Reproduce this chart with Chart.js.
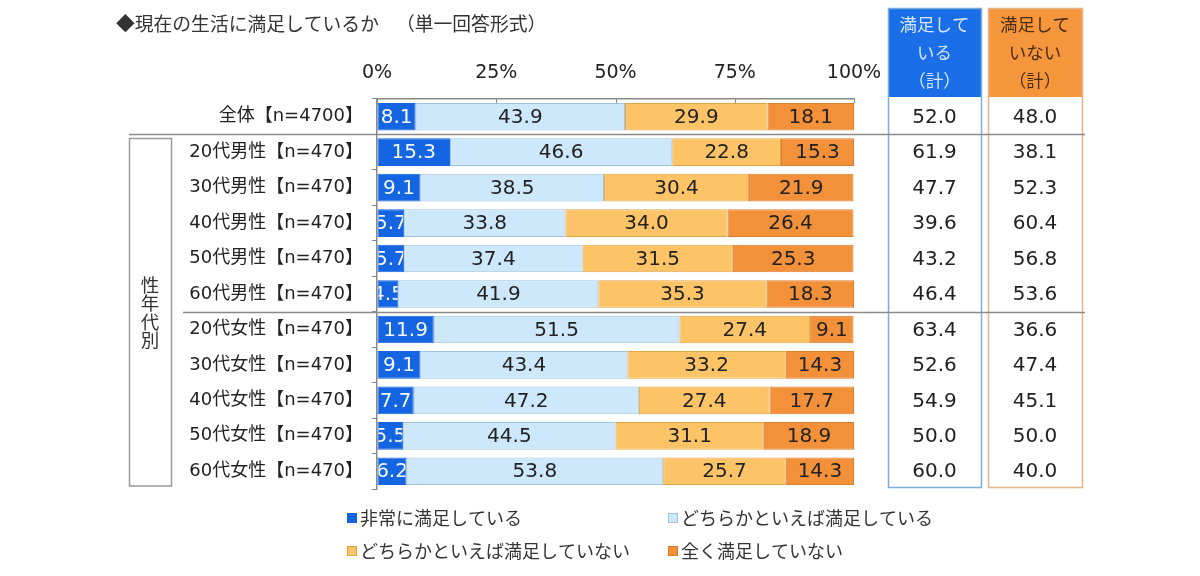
<!DOCTYPE html>
<html>
<head>
<meta charset="utf-8">
<script src="https://cdn.jsdelivr.net/npm/chart.js@4.4.0/dist/chart.umd.min.js"></script>
<style>
html,body{margin:0;padding:0;background:#fff;}
#wrap{width:1200px;height:576px;position:relative;}
</style>
</head>
<body>
<div id="wrap"><canvas id="c" width="1200" height="576"></canvas></div>
<script>
// ---- data ----
const categories = ['全体【n=4700】','20代男性【n=470】','30代男性【n=470】','40代男性【n=470】','50代男性【n=470】','60代男性【n=470】','20代女性【n=470】','30代女性【n=470】','40代女性【n=470】','50代女性【n=470】','60代女性【n=470】'];
const seriesNames = ['非常に満足している','どちらかといえば満足している','どちらかといえば満足していない','全く満足していない'];
const verySatisfied = [8.1,15.3,9.1,5.7,5.7,4.5,11.9,9.1,7.7,5.5,6.2];
const somewhatSatisfied = [43.9,46.6,38.5,33.8,37.4,41.9,51.5,43.4,47.2,44.5,53.8];
const somewhatUnsatisfied = [29.9,22.8,30.4,34.0,31.5,35.3,27.4,33.2,27.4,31.1,25.7];
const notSatisfied = [18.1,15.3,21.9,26.4,25.3,18.3,9.1,14.3,17.7,18.9,14.3];
const satisfiedTotal = [52.0,61.9,47.7,39.6,43.2,46.4,63.4,52.6,54.9,50.0,60.0];
const unsatisfiedTotal = [48.0,38.1,52.3,60.4,56.8,53.6,36.6,47.4,45.1,50.0,40.0];
const xTickValues = [0,25,50,75,100];
const titleMain = '◆現在の生活に満足しているか';
const titleSub = '（単一回答形式）';
const groupLabel = '性年代別';
const satHeader = ['満足して','いる','（計）'];
const unsatHeader = ['満足して','いない','（計）'];

// ---- styles ----
const fills = ['#1565e2','#cde8fb','#fcc466','#f3913a'];
const borders = ['#1565e2','#9fc4e0','#e3a448','#d97d2e'];
const labelColors = ['#f4f8ff','#222','#222','#222'];
const NUMFONT = '"DejaVu Sans","Noto Sans CJK JP",sans-serif';
const JPFONT = '"DejaVu Sans","Noto Sans CJK JP",sans-serif';
const CJKFONT = '"Noto Sans CJK JP","DejaVu Sans",sans-serif';

const seriesValues = [verySatisfied, somewhatSatisfied, somewhatUnsatisfied, notSatisfied];

const datasets = seriesValues.map((vals,i)=>({
  label: seriesNames[i],
  data: vals,
  backgroundColor: fills[i],
  borderColor: borders[i],
  borderWidth: 1,
  borderSkipped: false,
  barPercentage: 0.78,
  categoryPercentage: 1.0
}));

function boundary(ys, i){ // between category i and i+1
  return (ys.getPixelForValue(i) + ys.getPixelForValue(i+1))/2;
}

const labelPlugin = {
  id:'segLabels',
  afterDatasetsDraw(chart){
    const ctx = chart.ctx;
    chart.data.datasets.forEach((ds,di)=>{
      const meta = chart.getDatasetMeta(di);
      meta.data.forEach((bar,i)=>{
        const v = ds.data[i];
        const x0 = Math.min(bar.base, bar.x), x1 = Math.max(bar.base, bar.x);
        const h = bar.height;
        ctx.save();
        ctx.beginPath();
        ctx.rect(x0+1, bar.y-h/2, x1-x0-2, h);
        ctx.clip();
        ctx.font = '20px ' + NUMFONT;
        ctx.fillStyle = labelColors[di];
        ctx.textAlign = 'center';
        ctx.textBaseline = 'middle';
        ctx.fillText(v.toFixed(1), (x0+x1)/2, bar.y+1);
        ctx.restore();
      });
    });
  }
};

const decoPlugin = {
  id:'deco',
  afterDraw(chart){
    const ctx = chart.ctx;
    const xs = chart.scales.x, ys = chart.scales.y;
    const ca = chart.chartArea;
    ctx.save();
    // title
    ctx.font = '18.8px ' + CJKFONT;
    ctx.fillStyle = '#333';
    ctx.textAlign = 'left';
    ctx.textBaseline = 'middle';
    ctx.fillText(titleMain, 116, 24);
    ctx.fillText(titleSub, 396, 24);

    // inward ticks on top axis
    ctx.strokeStyle = '#888';
    ctx.lineWidth = 1;
    xTickValues.forEach(v=>{
      const px = Math.round(xs.getPixelForValue(v))+0.5;
      ctx.beginPath(); ctx.moveTo(px, ca.top); ctx.lineTo(px, ca.top+4); ctx.stroke();
    });

    // right columns
    const colDefs = [
      {x0:888, x1:981, fill:'#1a6fe8', text:'#d6e6ff', border:'#7eaedc', header:satHeader, vals:satisfiedTotal},
      {x0:988, x1:1082, fill:'#f5963c', text:'#4a2c10', border:'#e2b58a', header:unsatHeader, vals:unsatisfiedTotal}
    ];
    const hTop = 8, hBot = 97, bBot = 487;
    colDefs.forEach(c=>{
      ctx.fillStyle = c.fill;
      ctx.fillRect(c.x0, hTop, c.x1-c.x0, hBot-hTop);
      ctx.strokeStyle = c.border;
      ctx.lineWidth = 1.5;
      ctx.strokeRect(c.x0+0.5, hTop+0.5, c.x1-c.x0, bBot-hTop);
      ctx.font = '17.5px ' + CJKFONT;
      ctx.fillStyle = c.text;
      ctx.textAlign = 'center';
      ctx.textBaseline = 'middle';
      const cx = (c.x0+c.x1)/2;
      c.header.forEach((t,k)=> ctx.fillText(t, cx, 24 + k*28));
      ctx.font = '20px ' + NUMFONT;
      ctx.fillStyle = '#222';
      c.vals.forEach((v,i)=> ctx.fillText(v.toFixed(1), cx, ys.getPixelForValue(i)+1));
    });

    // separator lines
    ctx.strokeStyle = '#8a8a8a';
    ctx.lineWidth = 1.5;
    const y1 = Math.round(boundary(ys,0))+0.5;
    ctx.beginPath(); ctx.moveTo(129, y1); ctx.lineTo(1085, y1); ctx.stroke();
    const y2 = Math.round(boundary(ys,5))+0.5;
    ctx.beginPath(); ctx.moveTo(183, y2); ctx.lineTo(1085, y2); ctx.stroke();

    // group bracket box
    ctx.strokeStyle = '#9a9a9a';
    ctx.lineWidth = 1.5;
    ctx.strokeRect(129.5, y1+4, 42, 486 - (y1+4));
    ctx.font = '18.5px ' + CJKFONT;
    ctx.fillStyle = '#333';
    ctx.textAlign = 'center';
    ctx.textBaseline = 'middle';
    const gMid = (y1+4+486)/2;
    const chars = Array.from(groupLabel);
    chars.forEach((ch,k)=> ctx.fillText(ch, 150, gMid + (k - (chars.length-1)/2)*18.5));

    // legend
    const legPos = [[347,518],[668,518],[347,551],[668,551]];
    chart.data.datasets.forEach((ds,i)=>{
      const [lx,ly] = legPos[i];
      ctx.fillStyle = ds.backgroundColor;
      ctx.fillRect(lx, ly-5, 10, 10);
      ctx.strokeStyle = ds.borderColor;
      ctx.lineWidth = 1;
      ctx.strokeRect(lx+0.5, ly-4.5, 9, 9);
      ctx.font = '18px ' + CJKFONT;
      ctx.fillStyle = '#333';
      ctx.textAlign = 'left';
      ctx.textBaseline = 'middle';
      ctx.fillText(ds.label, lx+13, ly);
    });
    ctx.restore();
  }
};

new Chart(document.getElementById('c'), {
  type:'bar',
  data:{ labels: categories, datasets },
  options:{
    indexAxis:'y',
    responsive:false,
    animation:false,
    devicePixelRatio:1,
    layout:{ padding:{ left:0, top:0, right:346, bottom:87 } },
    plugins:{ legend:{display:false}, tooltip:{enabled:false}, title:{display:false} },
    scales:{
      x:{
        position:'top', stacked:true, min:0, max:100,
        afterBuildTicks(s){ s.ticks = xTickValues.map(v=>({value:v})); },
        afterFit(s){ s.height = 99; },
        grid:{ drawOnChartArea:false, drawTicks:false },
        border:{ display:true, color:'#8a8a8a', width:1.5 },
        ticks:{ padding:15, color:'#222', font:{ size:19, family:NUMFONT }, callback:(v)=> v+'%', maxRotation:0 }
      },
      y:{
        stacked:true,
        afterFit(s){ s.width = 377; },
        grid:{ offset:true, drawOnChartArea:false, drawTicks:true, tickLength:5, color:'#8a8a8a' },
        border:{ display:true, color:'#8a8a8a', width:1.5 },
        ticks:{ padding:9, color:'#222', font:{ size:18, family:JPFONT }, autoSkip:false }
      }
    }
  },
  plugins:[labelPlugin, decoPlugin]
});
</script>
</body>
</html>
